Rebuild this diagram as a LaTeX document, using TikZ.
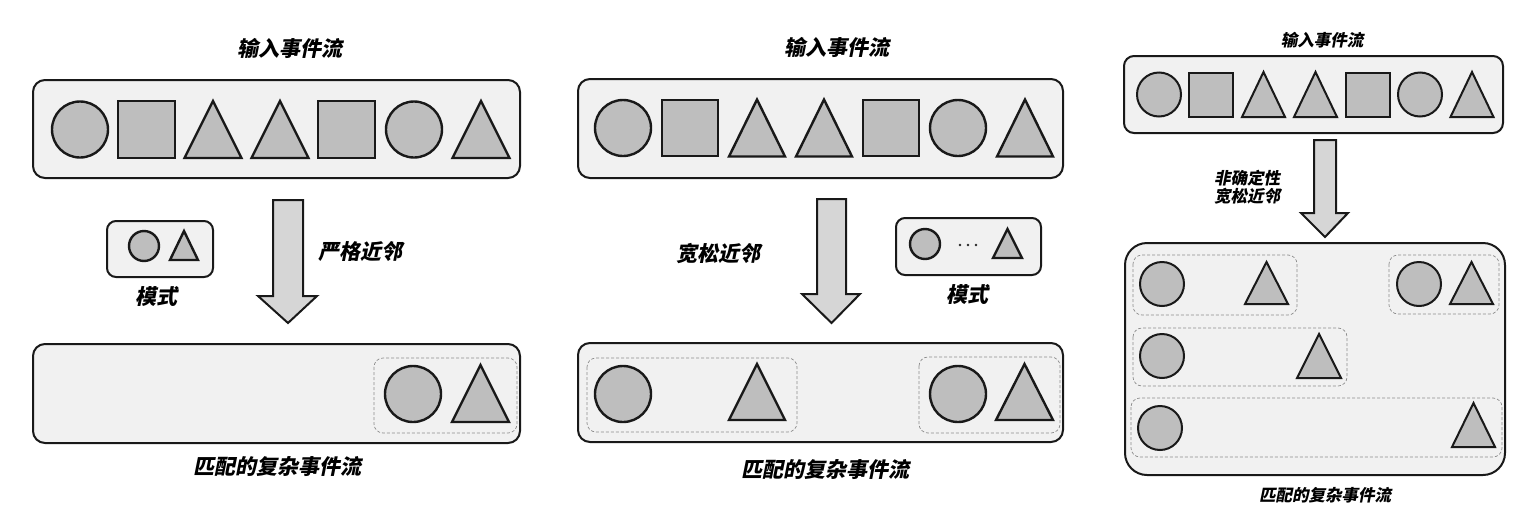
\documentclass[tikz,border=0pt]{standalone}
\usepackage{fontspec}
\newfontfamily\cjk[FakeSlant=0.2]{Noto Sans CJK SC}
\definecolor{boxfill}{HTML}{F1F1F1}
\definecolor{shpfill}{HTML}{BEBEBE}
\definecolor{arrfill}{HTML}{D6D6D6}
\definecolor{dashc}{HTML}{8C8C8C}
\tikzset{
  shp/.style={draw=black!90, fill=shpfill, line width=2.4pt, line join=miter},
  shps/.style={draw=black!90, fill=shpfill, line width=2pt, line join=miter},
  ebox/.style={draw=black!90, fill=boxfill, line width=2pt, rounded corners=12pt, inner sep=0pt, outer sep=0pt},
  dbox/.style={draw=dashc, line width=0.7pt, dash pattern=on 3pt off 2pt, rounded corners=9pt},
  bigarrow/.style={draw=black!90, fill=arrfill, line width=2pt, line join=miter},
  lbl/.style={font=\cjk\bfseries\fontsize{21pt}{24pt}\selectfont, inner sep=0pt},
  lbls/.style={font=\cjk\bfseries\fontsize{16.5pt}{21pt}\selectfont, inner sep=0pt, align=center},
  dotc/.style={fill=black!85, circle, inner sep=0pt, minimum size=2.6pt},
}
\newcommand{\shC}[4][shp]{\draw[#1] (#2,#3) circle (#4);}
\newcommand{\shS}[4][shp]{\draw[#1] (#2-#4,#3-#4) rectangle (#2+#4,#3+#4);}
\newcommand{\shT}[5][shp]{\draw[#1] (#2-#4,#3+#5) -- (#2,#3-#5) -- (#2+#4,#3+#5) -- cycle;}
\begin{document}
\begin{tikzpicture}[x=1pt,y=-1pt]
\useasboundingbox (0,0) rectangle (1518,504);
\fill[white] (0,0) rectangle (1518,504);

% ===== Panel 1 =====
\node[lbl] (t1) at (290,48) {输入事件流};
\node[ebox, minimum width=487pt, minimum height=98pt] (in1) at (276.5,129) {};
\shC{80}{129.5}{28}
\shS{146.5}{129.5}{28.5}
\shT{213}{129.5}{28.5}{28.5}
\shT{280}{129.5}{28.5}{28.5}
\shS{346.5}{129.5}{28.5}
\shC{414}{129.5}{28}
\shT{481}{129.5}{28.5}{28.5}

\node[ebox, rounded corners=9pt, minimum width=106pt, minimum height=56pt] (p1) at (160,249) {};
\shC{144}{246}{15}
\shT{184}{245.5}{14}{14.5}
\node[lbl] (m1) at (156,296) {模式};

\draw[bigarrow] (273,200) -- (303,200) -- (303,296) -- (317,296) -- (288,323) -- (258,296) -- (273,296) -- cycle;
\node[lbl] (l1) at (360,252) {严格近邻};

\node[ebox, minimum width=487pt, minimum height=99pt] (out1) at (276.5,393.5) {};
\draw[dbox] (374,358) rectangle (517,433);
\shC{413}{394}{28}
\shT{480.5}{393.5}{28.5}{28.5}
\node[lbl] (o1) at (277,467) {匹配的复杂事件流};

% ===== Panel 2 =====
\node[lbl] (t2) at (837,47) {输入事件流};
\node[ebox, minimum width=485pt, minimum height=99pt] (in2) at (820.5,128.5) {};
\shC{623}{128}{28}
\shS{690}{128}{28}
\shT{757}{128}{28}{28.5}
\shT{824}{128}{28}{28.5}
\shS{891}{128}{28}
\shC{958}{128}{28}
\shT{1025}{128}{28}{28.5}

\draw[bigarrow] (817,199) -- (846,199) -- (846,294) -- (860,294) -- (831.5,323) -- (802,294) -- (817,294) -- cycle;
\node[lbl] (l2) at (718,253) {宽松近邻};

\node[ebox, rounded corners=9pt, minimum width=145pt, minimum height=57pt] (p2) at (968.5,246.5) {};
\shC{925}{244}{15}
\node[dotc] (d1) at (960,245) {};
\node[dotc] (d2) at (968,245) {};
\node[dotc] (d3) at (976,245) {};
\shT{1007.5}{243.5}{14.5}{14.5}
\node[lbl] (m2) at (967,294) {模式};

\node[ebox, minimum width=485pt, minimum height=99pt] (out2) at (820.5,392.5) {};
\draw[dbox] (587,358) rectangle (797,432);
\shC{623}{394}{28}
\shT{757}{392}{28}{28}
\draw[dbox] (919,357) rectangle (1060,433);
\shC{958}{394}{28}
\shT{1024.5}{392}{28.5}{28}
\node[lbl] (o2) at (825,470) {匹配的复杂事件流};

% ===== Panel 3 =====
\node[lbls] (t3) at (1322,40) {输入事件流};
\node[ebox, rounded corners=10pt, minimum width=379pt, minimum height=77pt] (in3) at (1313.5,94.5) {};
\shC[shps]{1159}{94.5}{22}
\shS[shps]{1211}{94.5}{22}
\shT[shps]{1263.5}{94.5}{21.5}{22.5}
\shT[shps]{1315.5}{94.5}{21.5}{22.5}
\shS[shps]{1367.5}{94.5}{22}
\shC[shps]{1420}{94.5}{22}
\shT[shps]{1472}{94.5}{21.5}{22.5}

\draw[bigarrow] (1314,140) -- (1336,140) -- (1336,213) -- (1348,213) -- (1325,237) -- (1301,213) -- (1314,213) -- cycle;
\node[lbls] (l3) at (1247,187.5) {非确定性\\[-3pt]宽松近邻};

\node[ebox, rounded corners=22pt, minimum width=380pt, minimum height=232pt] (out3) at (1315,359) {};
\draw[dbox] (1133,255) rectangle (1297,315);
\shC[shps]{1162}{284}{22}
\shT[shps]{1266.5}{283}{21.5}{21}
\draw[dbox] (1389,255) rectangle (1499,314);
\shC[shps]{1419}{284}{22}
\shT[shps]{1471.5}{283}{21.5}{21}
\draw[dbox] (1133,328) rectangle (1347,386);
\shC[shps]{1162}{356}{22}
\shT[shps]{1319}{356}{22}{22}
\draw[dbox] (1131,398) rectangle (1502,457);
\shC[shps]{1160}{428}{22}
\shT[shps]{1473.5}{425}{21.5}{22}
\node[lbls] (o3) at (1325,495) {匹配的复杂事件流};
\end{tikzpicture}
\end{document}
